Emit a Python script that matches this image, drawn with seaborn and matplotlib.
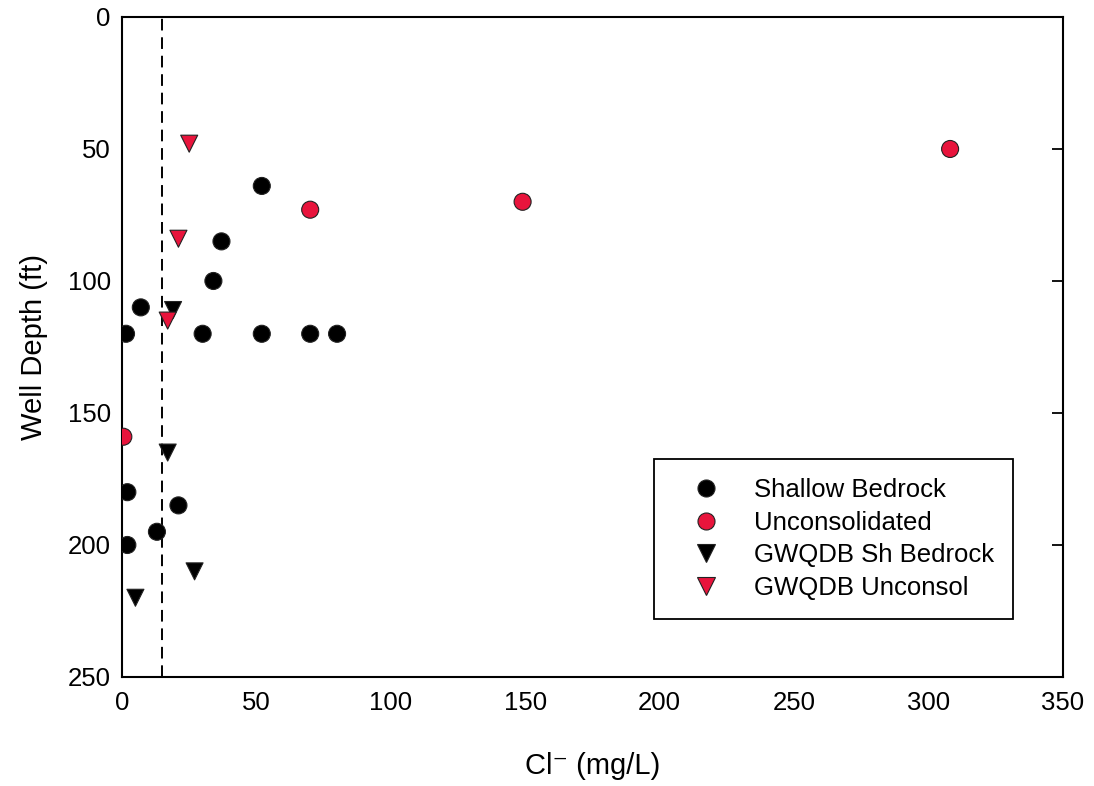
import matplotlib
matplotlib.use("Agg")
import matplotlib.pyplot as plt
import seaborn as sns
import pandas as pd

sns.set_theme(style="white")
plt.rcParams['font.family'] = ['Liberation Sans', 'DejaVu Sans']
plt.rcParams['text.color'] = 'black'
plt.rcParams['axes.labelcolor'] = 'black'

# Shallow Bedrock (circles, black)
shallow_cl = [52, 37, 34, 7, 1.5, 30, 52, 70, 80, 2, 21, 13, 2]
shallow_depth = [64, 85, 100, 110, 120, 120, 120, 120, 120, 180, 185, 195, 200]

# Unconsolidated (circles, red)
uncon_cl = [308, 149, 70, 0.5]
uncon_depth = [50, 70, 73, 159]

# GWQDB Sh Bedrock (triangles, black)
gw_sh_cl = [19, 17, 27, 5]
gw_sh_depth = [111, 165, 210, 220]

# GWQDB Unconsol (triangles, red)
gw_un_cl = [25, 21, 17]
gw_un_depth = [48, 84, 115]

groups = ["Shallow Bedrock", "Unconsolidated", "GWQDB Sh Bedrock", "GWQDB Unconsol"]
threshold_cl = 15

frames = []
for name, xs, ys in zip(groups,
                        [shallow_cl, uncon_cl, gw_sh_cl, gw_un_cl],
                        [shallow_depth, uncon_depth, gw_sh_depth, gw_un_depth]):
    frames.append(pd.DataFrame({"cl": xs, "depth": ys, "group": name}))
df = pd.concat(frames, ignore_index=True)

red = "#E8143C"
palette = {groups[0]: "black", groups[1]: red, groups[2]: "black", groups[3]: red}
markers = {groups[0]: "o", groups[1]: "o", groups[2]: "v", groups[3]: "v"}

fig = plt.figure(figsize=(10.94, 7.86), dpi=100)
ax = fig.add_axes([0.1115, 0.1387, 0.8602, 0.8397])

# linea tratteggiata di riferimento
ax.axvline(threshold_cl, color="black", linestyle=(0, (6, 3.5)), linewidth=1.4, zorder=1)

sns.scatterplot(data=df, x="cl", y="depth", hue="group", style="group",
                palette=palette, markers=markers, hue_order=groups, style_order=groups,
                s=150, edgecolor="#222222", linewidth=0.8, ax=ax, zorder=3)

ax.set_xlim(0, 350)
ax.set_ylim(250, 0)
ax.set_xticks(range(0, 351, 50))
ax.set_yticks(range(0, 251, 50))

for sp in ax.spines.values():
    sp.set_color("black")
    sp.set_linewidth(1.5)

ax.tick_params(axis="both", direction="in", length=8, width=1.3, labelsize=18.5,
               colors="black", labelcolor="black")
ax.tick_params(axis="x", pad=10)
ax.tick_params(axis="y", right=True, pad=8)

ax.set_xlabel("Cl\u207b (mg/L)", fontsize=21, labelpad=27)
ax.set_ylabel("Well Depth (ft)", fontsize=21, labelpad=14)

leg = ax.legend(loc="upper right", bbox_to_anchor=(0.947, 0.330), fontsize=18.5,
                frameon=True, fancybox=False, shadow=False, framealpha=1,
                edgecolor="black", borderpad=0.75, labelspacing=0.33,
                handlelength=2.6, handletextpad=0.55, borderaxespad=0,
                markerscale=1.0)
leg.get_frame().set_linewidth(1.3)
for t in leg.get_texts():
    t.set_color("black")

fig.savefig("out.png", dpi=100)
